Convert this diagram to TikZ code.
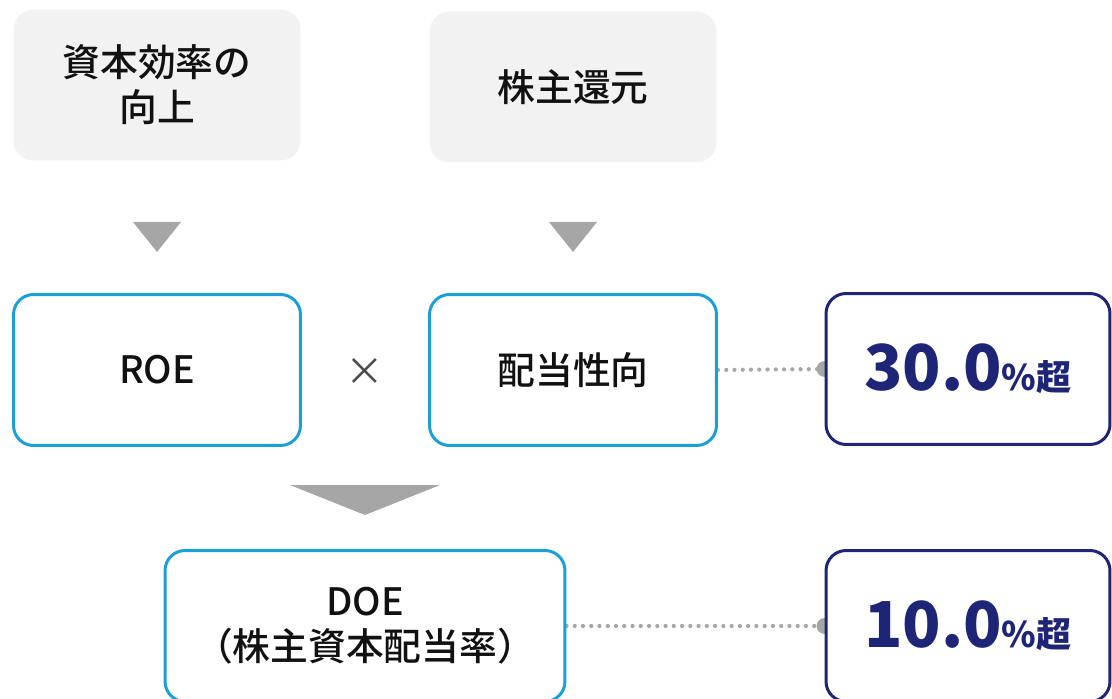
\documentclass[tikz,border=0pt]{standalone}
\usepackage{fontspec}
\setmainfont{Noto Sans CJK JP}
\newfontfamily\jpmedium{Noto Sans CJK JP Medium}
\usepackage{tikz}
\usetikzlibrary{shapes.geometric, arrows.meta, backgrounds}
\usetikzlibrary{positioning}
\definecolor{softgray}{HTML}{F2F2F2}
\definecolor{tricolor}{HTML}{A6A6A6}
\definecolor{skyline}{HTML}{1AA0D8}
\definecolor{navyline}{HTML}{1E2576}
\definecolor{inkgray}{HTML}{111111}
\tikzstyle{theme} = [rectangle, rounded corners=0.4cm, minimum width=5.74cm, minimum height=3.02cm, text centered, align=center, fill=softgray, text=inkgray, font=\fontsize{21.5}{25.5}\selectfont\jpmedium]
\tikzstyle{factor} = [rectangle, rounded corners=0.4cm, minimum width=5.74cm, minimum height=3.02cm, text centered, align=center, draw=skyline, line width=1.7pt, fill=white, text=inkgray, font=\fontsize{21.5}{25.5}\selectfont\jpmedium]
\tikzstyle{target} = [rectangle, rounded corners=0.4cm, minimum width=5.68cm, minimum height=3.02cm, text centered, draw=navyline, line width=1.7pt, fill=white, text=navyline, font=\bfseries]
\tikzstyle{pointer} = [fill=tricolor]
\tikzstyle{dotline} = [draw=tricolor, line width=2.4pt, line cap=round, dash pattern=on 0pt off 4.7pt, -{Circle[length=9pt, line cap=butt]}, shorten >=-4.5pt]
\newcommand{\ratetext}[1]{{\fontsize{36}{40}\selectfont #1}{\fontsize{20}{24}\selectfont \%超}}

\begin{document}
\begin{tikzpicture}[x=0.02cm, y=-0.02cm]

        \useasboundingbox (0,0) rectangle (1112,699);

        % Nodes
        \node (capeff) [theme] at (157,85) {資本効率の\\向上};
        \node (return) [theme] at (573,87) {株主還元};
        \node (roe) [factor] at (157,370) {ROE};
        \node (payout) [factor] at (573,370) {配当性向};
        \node (times) [text=inkgray!75, font=\fontsize{22}{24}\selectfont] at (365,372) {×};
        \node (rateA) [target] at (968,369) {\ratetext{30.0}};
        \node (doe) [factor, minimum width=8cm] at (365,626) {DOE\\（株主資本配当率）};
        \node (rateB) [target] at (968,626) {\ratetext{10.0}};

        % Pointers
        \fill [pointer] (133,222) -- (181,222) -- (157,252) -- cycle;
        \fill [pointer] (549,222) -- (597,222) -- (573,252) -- cycle;
        \fill [pointer] (290,485) -- (440,485) -- (365,515) -- cycle;

        % Arrows
        \begin{scope}[on background layer]
        \draw [dotline] (payout.east) -- (rateA.west);
        \draw [dotline] (doe.east) -- (rateB.west);
        \end{scope}

    \end{tikzpicture}
\end{document}
